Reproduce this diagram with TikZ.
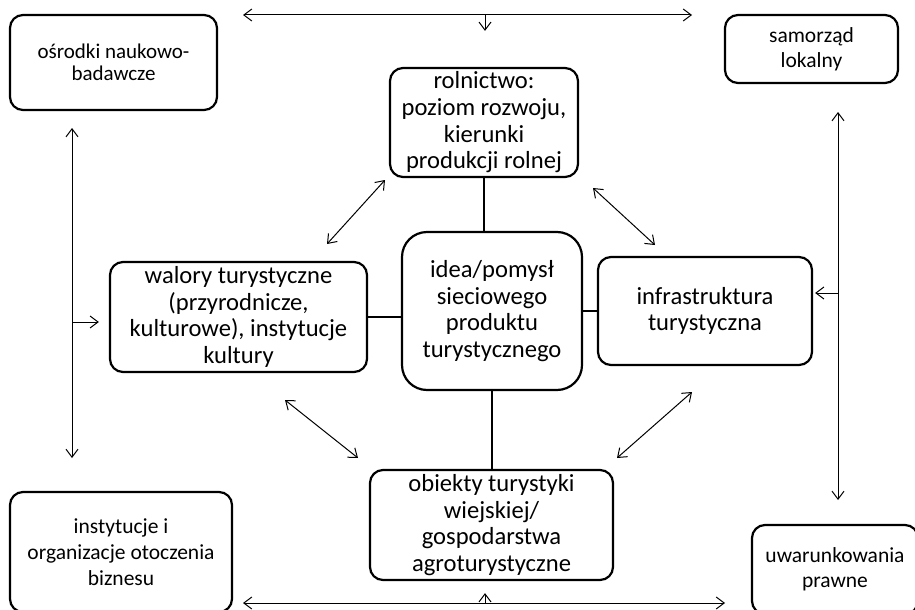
\documentclass[tikz,border=0pt]{standalone}
\usepackage{fontspec}
\setmainfont{Carlito}
\usetikzlibrary{arrows.meta,positioning}

\begin{document}
\begin{tikzpicture}[x=1pt,y=-1pt,
box/.style={draw,line width=2.2pt,rounded corners=13pt,align=center,inner sep=2pt,font=\fontsize{24.6}{26.7}\selectfont},
outer/.style={box,font=\fontsize{21.5}{25}\selectfont},
link/.style={line width=2.2pt},
arr/.style={{Straight Barb[length=8pt,width=12pt]}-{Straight Barb[length=8pt,width=12pt]},line width=1pt},
tip/.style={-{Straight Barb[length=8pt,width=12pt]},line width=1pt}]
\useasboundingbox (0,0) rectangle (915,610);
% outer boxes
\node[outer,font=\fontsize{21}{22.5}\selectfont,minimum width=207pt,minimum height=95pt] (osrodki) at (113.5,62.5) {ośrodki naukowo-\\badawcze};
\node[outer,minimum width=173pt,minimum height=68pt] (samorzad) at (811.5,49) {samorząd\\lokalny};
\node[outer,font=\fontsize{21.5}{26}\selectfont,minimum width=222pt,minimum height=120pt] (instytucje) at (121,552) {instytucje i\\organizacje otoczenia\\biznesu};
\node[outer,minimum width=166pt,minimum height=89pt] (prawne) at (835,569.5) {uwarunkowania\\prawne};
% inner boxes
\node[box,minimum width=188pt,minimum height=109pt] (rolnictwo) at (484,122.5) {rolnictwo:\\poziom rozwoju,\\kierunki\\produkcji rolnej};
\node[box,minimum width=257pt,minimum height=110pt] (walory) at (238.5,317) {walory turystyczne\\(przyrodnicze,\\kulturowe), instytucje\\kultury};
\node[box,rounded corners=25pt,minimum width=180pt,minimum height=158pt] (idea) at (492,311) {idea/pomysł\\sieciowego\\produktu\\turystycznego};
\node[box,minimum width=214pt,minimum height=108pt] (infra) at (705,311) {infrastruktura\\turystyczna};
\node[box,minimum width=243pt,minimum height=110pt] (obiekty) at (491.5,525) {obiekty turystyki\\wiejskiej/\\gospodarstwa\\agroturystyczne};
% links to the idea
\draw[link] (rolnictwo.south) -- (rolnictwo.south |- idea.north);
\draw[link] (walory.east) -- (walory.east -| idea.west);
\draw[link] (infra.west -| idea.east) -- (infra.west);
\draw[link] (idea.south) -- (idea.south |- obiekty.north);
% frame arrows
\coordinate (tl) at (243,15);
\coordinate (tr) at (692,15);
\coordinate (tm) at (485,15);
\coordinate (bl) at (243,603);
\coordinate (br) at (725,603);
\coordinate (bm) at (485,603);
\coordinate (lt) at (72,128);
\coordinate (lb) at (72,458);
\coordinate (lm) at (72,322);
\coordinate (rt) at (838,112);
\coordinate (rb) at (838,500);
\coordinate (rm) at (838,293);
\draw[arr] (tl) -- (tr);
\draw[tip,shorten >=36pt] (tm) -- (tm |- rolnictwo.north);
\draw[arr] (bl) -- (br);
\draw[tip,shorten >=12pt] (bm) -- (bm |- obiekty.south);
\draw[arr] (lt) -- (lb);
\draw[tip,shorten >=10pt] (lm) -- (lm -| walory.west);
\draw[arr] (rt) -- (rb);
\draw[tip,shorten >=2pt] (rm) -- (rm -| infra.east);
% diagonal arrows
\coordinate (rw1) at (385,180);
\coordinate (rw2) at (327,244);
\coordinate (ri1) at (593,188);
\coordinate (ri2) at (655,245);
\coordinate (wo1) at (285,400);
\coordinate (wo2) at (358,458);
\coordinate (io1) at (692,392);
\coordinate (io2) at (617,458);
\draw[arr] (rw1) -- (rw2);
\draw[arr] (ri1) -- (ri2);
\draw[arr] (wo1) -- (wo2);
\draw[arr] (io1) -- (io2);
\end{tikzpicture}
\end{document}
